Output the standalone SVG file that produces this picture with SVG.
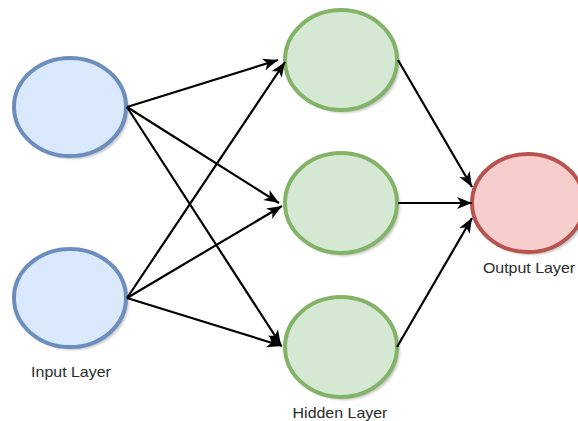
<svg xmlns="http://www.w3.org/2000/svg" width="578" height="421" viewBox="0 0 578 421">
  <style>
    .node { stroke-width: 4; }
    .input { fill: #dae8fc; stroke: #6c8ebf; }
    .hidden { fill: #d5e8d4; stroke: #82b366; }
    .output { fill: #f8cecc; stroke: #b85450; }
    .shadow { fill: #9a9a9a; opacity: 0.55; filter: url(#soft); }
    .edge { stroke: #000; stroke-width: 2.2; fill: none; marker-end: url(#arrow); }
    .label { font-family: "Liberation Sans", Arial, sans-serif; font-size: 14px; fill: #2a2a2a; text-anchor: middle; }
  </style>
  <defs>
    <filter id="soft" x="-20%" y="-20%" width="140%" height="140%">
      <feGaussianBlur stdDeviation="1"/>
    </filter>
    <marker id="arrow" markerUnits="userSpaceOnUse" markerWidth="18" markerHeight="14" refX="15" refY="6.5" orient="auto" overflow="visible">
      <path d="M0,0.5 L15,6.5 L0,12.5 L4,6.5 Z" fill="#000"/>
    </marker>
  </defs>
  <rect width="578" height="421" fill="#fff"/>

  <!-- input layer -->
  <g id="input-1">
    <ellipse class="shadow" cx="73" cy="110" rx="56" ry="49"/>
    <ellipse class="node input" cx="70" cy="107" rx="56" ry="49"/>
  </g>
  <g id="input-2">
    <ellipse class="shadow" cx="73" cy="301" rx="56" ry="49"/>
    <ellipse class="node input" cx="70" cy="298" rx="56" ry="49"/>
    <text class="label" transform="translate(71,377) scale(1.14,1)">Input Layer</text>
  </g>

  <!-- hidden layer -->
  <g id="hidden-1">
    <ellipse class="shadow" cx="344" cy="63" rx="56" ry="50"/>
    <ellipse class="node hidden" cx="341" cy="60" rx="56" ry="50"/>
  </g>
  <g id="hidden-2">
    <ellipse class="shadow" cx="344" cy="206" rx="56" ry="50"/>
    <ellipse class="node hidden" cx="341" cy="203" rx="56" ry="50"/>
  </g>
  <g id="hidden-3">
    <ellipse class="shadow" cx="344" cy="350" rx="56" ry="50"/>
    <ellipse class="node hidden" cx="341" cy="347" rx="56" ry="50"/>
    <text class="label" transform="translate(340,418) scale(1.14,1)">Hidden Layer</text>
  </g>

  <!-- output layer -->
  <g id="output-1">
    <ellipse class="shadow" cx="531" cy="206" rx="56" ry="49"/>
    <ellipse class="node output" cx="528" cy="203" rx="56" ry="49"/>
    <text class="label" transform="translate(529,273) scale(1.14,1)">Output Layer</text>
  </g>

  <!-- connectors -->
  <g id="connectors">
    <line class="edge" x1="127" y1="107" x2="278" y2="60"/>
    <line class="edge" x1="127" y1="107" x2="279" y2="203"/>
    <line class="edge" x1="127" y1="107" x2="281" y2="345"/>
    <line class="edge" x1="127" y1="298" x2="285" y2="62"/>
    <line class="edge" x1="127" y1="298" x2="282" y2="206"/>
    <line class="edge" x1="127" y1="298" x2="282" y2="346"/>
    <line class="edge" x1="398" y1="60" x2="472" y2="187"/>
    <line class="edge" x1="398" y1="203" x2="472" y2="203"/>
    <line class="edge" x1="397" y1="347" x2="472" y2="218"/>
  </g>
</svg>
